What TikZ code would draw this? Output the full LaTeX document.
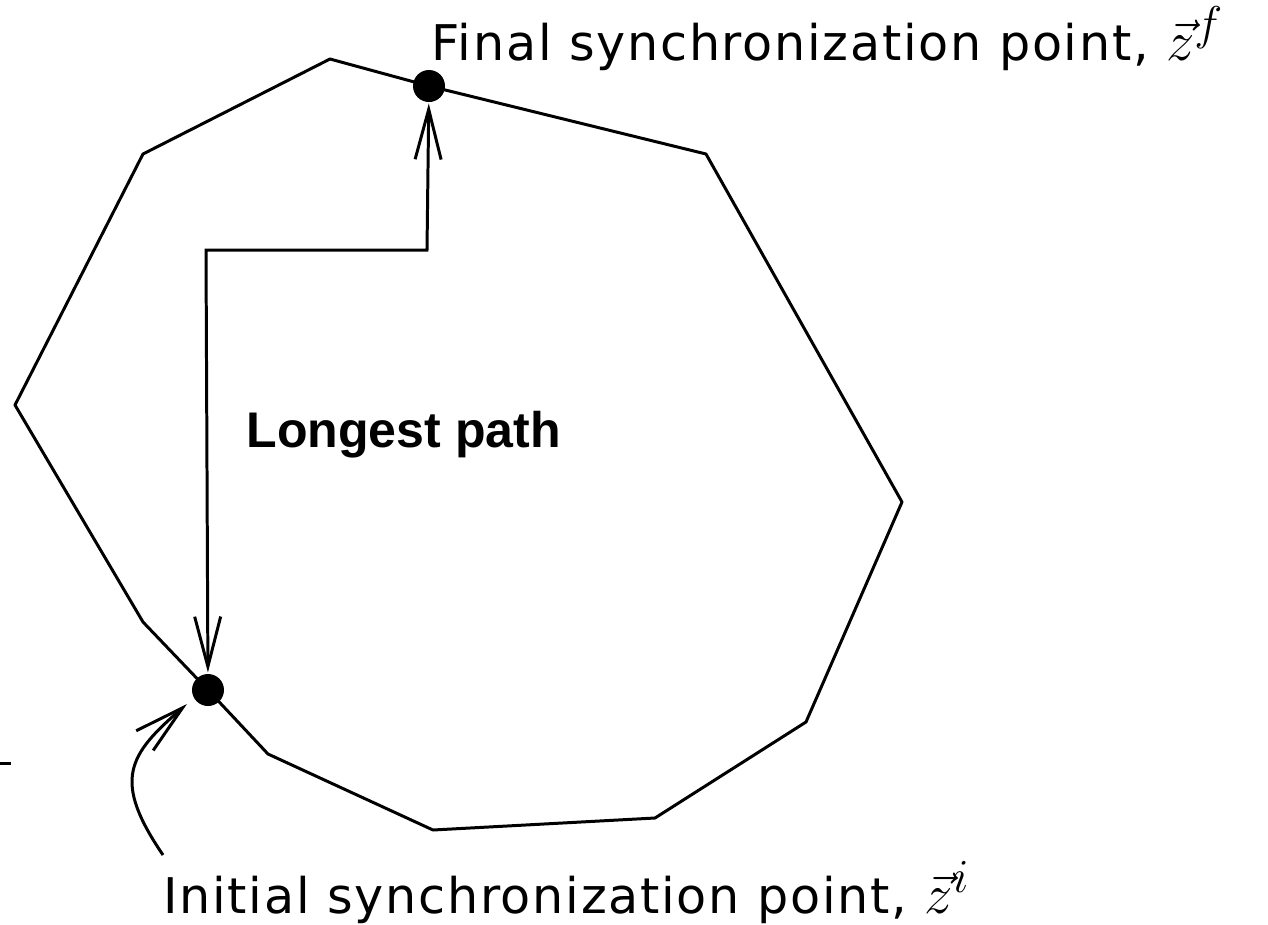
\documentclass[tikz,border=0pt]{standalone}
\usepackage{fontspec}
\newfontfamily\boldsans{Liberation Sans}
\newfontfamily\labelsans[LetterSpace=3.5]{DejaVu Sans}
\usetikzlibrary{arrows.meta,positioning}
\newcommand{\syncvec}[1]{\scalebox{1.3}{$\vec{z}^{#1}$}}

\begin{document}
\begin{tikzpicture}[x=0.02cm,y=-0.02cm,line width=1.7pt,
   >={Straight Barb[length=1cm,width=0.52cm]},
   syncpt/.style={circle,fill,inner sep=0pt,minimum size=0.64cm},
   lbl/.style={font=\labelsans\fontsize{28}{32}\selectfont,inner sep=0pt}]
  \useasboundingbox (0,0) rectangle (1268,924);
  % outline of the region
  \coordinate (p1) at (330,59);
  \coordinate (p2) at (706,154);
  \coordinate (p3) at (902,502);
  \coordinate (p4) at (806,722);
  \coordinate (p5) at (655,818);
  \coordinate (p6) at (433,830);
  \coordinate (p7) at (268,754);
  \coordinate (p8) at (143,622);
  \coordinate (p9) at (15,405);
  \coordinate (p10) at (143,154);
  \node[syncpt] (zf) at (429,86) {};
  \node[syncpt] (zi) at (208,690) {};
  \draw[line join=round] (p1) -- (zf.center) -- (p2) -- (p3) -- (p4) -- (p5) -- (p6)
    -- (p7) -- (zi.center) -- (p8) -- (p9) -- (p10) -- cycle;
  % longest path
  \coordinate (c1) at (206,250);
  \coordinate (c2) at (427,250);
  \draw[<->] (zi) -- (c1) -- (c2) -- (zf);
  \node[font=\boldsans\bfseries\fontsize{28.5}{34}\selectfont,anchor=base west,inner sep=0pt]
    (lp) at (245,447) {Longest path};
  % labels
  \node[lbl,anchor=base west] (lblf) at (430,60) {Final synchronization point, \syncvec{f}};
  \node[lbl,anchor=base west] (lbli) at (162,913) {Initial synchronization point, \syncvec{i}};
  \coordinate (s) at (163,855);
  \coordinate (t) at (187,704);
  \draw[->] (s) .. controls (112,780) and (128,755) .. (t);
  \coordinate (m1) at (0,763);
  \coordinate (m2) at (11,763);
  \draw (m1) -- (m2);
\end{tikzpicture}
\end{document}
